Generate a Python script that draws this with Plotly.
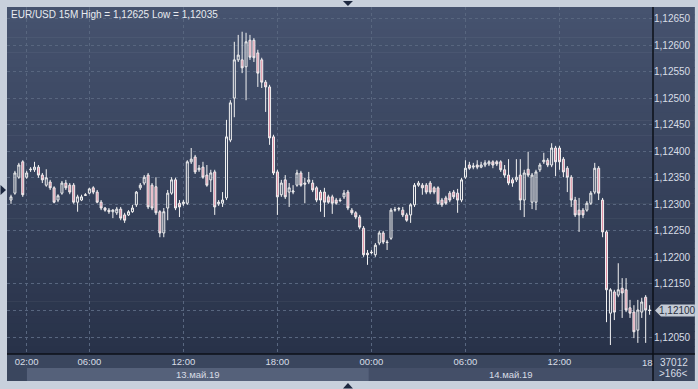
import plotly.graph_objects as go
import pandas as pd

# ---------------- data (EUR/USD 15M) ----------------
start_time = "2019-05-13 01:00"
open_ = [1.12308,1.12321,1.12351,1.12380,1.12351,1.12365,1.12365,1.12370,1.12355,1.12336,
1.12342,1.12331,1.12308,1.12321,1.12340,1.12336,1.12336,1.12304,1.12308,1.12318,
1.12321,1.12331,1.12323,1.12304,1.12293,1.12289,1.12286,1.12284,1.12291,1.12280,
1.12280,1.12286,1.12299,1.12331,1.12340,1.12355,1.12336,1.12333,1.12286,1.12246,
1.12293,1.12321,1.12346,1.12302,1.12301,1.12302,1.12380,1.12389,1.12365,1.12370,
1.12355,1.12346,1.12361,1.12301,1.12302,1.12312,1.12421,1.12500,1.12572,1.12572,
1.12559,1.12609,1.12609,1.12585,1.12572,1.12530,1.12521,1.12427,1.12361,1.12318,
1.12346,1.12323,1.12323,1.12336,1.12359,1.12340,1.12342,1.12340,1.12331,1.12323,
1.12323,1.12314,1.12314,1.12308,1.12308,1.12314,1.12323,1.12289,1.12284,1.12276,
1.12255,1.12208,1.12210,1.12205,1.12227,1.12246,1.12229,1.12236,1.12289,1.12291,
1.12289,1.12280,1.12280,1.12299,1.12336,1.12336,1.12336,1.12340,1.12331,1.12331,
1.12308,1.12312,1.12321,1.12323,1.12321,1.12308,1.12351,1.12374,1.12370,1.12374,
1.12370,1.12374,1.12376,1.12380,1.12380,1.12380,1.12365,1.12355,1.12346,1.12346,
1.12355,1.12308,1.12366,1.12304,1.12304,1.12365,1.12380,1.12383,1.12374,1.12406,
1.12406,1.12385,1.12368,1.12351,1.12308,1.12289,1.12289,1.12289,1.12302,1.12323,
1.12368,1.12308,1.12248,1.12095,1.12135,1.12129,1.12142,1.12139,1.12105,1.12097,
1.12063,1.12097,1.12125,1.12101]
high = [1.12318,1.12363,1.12378,1.12383,1.12363,1.12370,1.12380,1.12374,1.12359,1.12366,
1.12346,1.12334,1.12319,1.12344,1.12346,1.12340,1.12340,1.12318,1.12318,1.12321,
1.12331,1.12334,1.12327,1.12308,1.12295,1.12293,1.12291,1.12295,1.12295,1.12284,
1.12289,1.12299,1.12325,1.12340,1.12355,1.12359,1.12340,1.12351,1.12289,1.12293,
1.12327,1.12351,1.12350,1.12308,1.12308,1.12383,1.12406,1.12393,1.12374,1.12380,
1.12374,1.12365,1.12365,1.12308,1.12323,1.12459,1.12496,1.12606,1.12619,1.12625,
1.12623,1.12619,1.12613,1.12591,1.12576,1.12534,1.12525,1.12431,1.12365,1.12346,
1.12355,1.12340,1.12336,1.12365,1.12363,1.12350,1.12361,1.12346,1.12334,1.12327,
1.12331,1.12318,1.12318,1.12312,1.12312,1.12327,1.12327,1.12293,1.12287,1.12280,
1.12259,1.12214,1.12214,1.12227,1.12250,1.12250,1.12233,1.12293,1.12295,1.12295,
1.12295,1.12284,1.12302,1.12340,1.12344,1.12340,1.12340,1.12344,1.12334,1.12334,
1.12312,1.12316,1.12325,1.12327,1.12329,1.12350,1.12383,1.12380,1.12378,1.12383,
1.12380,1.12383,1.12383,1.12383,1.12383,1.12383,1.12374,1.12385,1.12350,1.12385,
1.12385,1.12365,1.12399,1.12359,1.12365,1.12378,1.12397,1.12387,1.12415,1.12410,
1.12410,1.12389,1.12372,1.12355,1.12314,1.12312,1.12293,1.12306,1.12325,1.12378,
1.12372,1.12312,1.12251,1.12142,1.12139,1.12189,1.12161,1.12161,1.12120,1.12110,
1.12120,1.12124,1.12129,1.12110]
low = [1.12301,1.12318,1.12348,1.12314,1.12348,1.12361,1.12361,1.12350,1.12340,1.12333,
1.12327,1.12302,1.12304,1.12318,1.12327,1.12319,1.12301,1.12286,1.12306,1.12316,
1.12319,1.12319,1.12302,1.12289,1.12286,1.12282,1.12274,1.12280,1.12270,1.12265,
1.12278,1.12284,1.12295,1.12327,1.12336,1.12291,1.12289,1.12280,1.12238,1.12238,
1.12270,1.12318,1.12289,1.12276,1.12297,1.12299,1.12376,1.12357,1.12361,1.12348,
1.12333,1.12323,1.12280,1.12297,1.12295,1.12308,1.12417,1.12464,1.12568,1.12547,
1.12496,1.12572,1.12568,1.12521,1.12519,1.12474,1.12412,1.12355,1.12280,1.12314,
1.12310,1.12295,1.12319,1.12333,1.12333,1.12302,1.12338,1.12323,1.12304,1.12286,
1.12276,1.12301,1.12282,1.12299,1.12304,1.12310,1.12289,1.12280,1.12272,1.12253,
1.12201,1.12186,1.12206,1.12201,1.12223,1.12225,1.12214,1.12233,1.12286,1.12287,
1.12276,1.12267,1.12265,1.12295,1.12333,1.12318,1.12319,1.12319,1.12319,1.12299,
1.12295,1.12299,1.12304,1.12310,1.12284,1.12304,1.12348,1.12365,1.12366,1.12366,
1.12368,1.12370,1.12372,1.12368,1.12372,1.12361,1.12350,1.12336,1.12333,1.12342,
1.12289,1.12276,1.12351,1.12291,1.12289,1.12361,1.12376,1.12370,1.12370,1.12353,
1.12365,1.12351,1.12323,1.12295,1.12276,1.12248,1.12274,1.12286,1.12299,1.12319,
1.12308,1.12238,1.12078,1.12035,1.12082,1.12125,1.12086,1.12097,1.12086,1.12048,
1.12039,1.12086,1.12039,1.12092]
close = [1.12314,1.12359,1.12374,1.12318,1.12359,1.12366,1.12370,1.12355,1.12346,1.12350,
1.12331,1.12304,1.12316,1.12340,1.12331,1.12323,1.12304,1.12314,1.12314,1.12317,
1.12329,1.12323,1.12304,1.12293,1.12289,1.12286,1.12289,1.12291,1.12274,1.12270,
1.12286,1.12293,1.12323,1.12336,1.12351,1.12295,1.12293,1.12284,1.12246,1.12286,
1.12321,1.12346,1.12293,1.12295,1.12304,1.12380,1.12385,1.12361,1.12368,1.12351,
1.12336,1.12359,1.12295,1.12304,1.12308,1.12427,1.12491,1.12572,1.12581,1.12557,
1.12606,1.12577,1.12576,1.12547,1.12530,1.12521,1.12425,1.12359,1.12314,1.12340,
1.12314,1.12331,1.12325,1.12359,1.12336,1.12338,1.12346,1.12327,1.12308,1.12308,
1.12304,1.12304,1.12302,1.12302,1.12307,1.12321,1.12293,1.12284,1.12276,1.12257,
1.12205,1.12205,1.12209,1.12223,1.12246,1.12229,1.12228,1.12289,1.12290,1.12292,
1.12280,1.12270,1.12299,1.12336,1.12340,1.12331,1.12323,1.12323,1.12323,1.12302,
1.12299,1.12302,1.12308,1.12314,1.12308,1.12346,1.12368,1.12368,1.12372,1.12370,
1.12374,1.12378,1.12380,1.12374,1.12376,1.12365,1.12355,1.12340,1.12340,1.12351,
1.12308,1.12359,1.12355,1.12355,1.12361,1.12374,1.12383,1.12374,1.12406,1.12380,
1.12380,1.12361,1.12351,1.12308,1.12280,1.12280,1.12280,1.12302,1.12321,1.12368,
1.12321,1.12248,1.12139,1.12139,1.12097,1.12139,1.12133,1.12101,1.12095,1.12060,
1.12101,1.12116,1.12101,1.12100]

y_tick_vals = [1.1205, 1.1210, 1.1215, 1.1220, 1.1225, 1.1230, 1.1235, 1.1240,
               1.1245, 1.1250, 1.1255, 1.1260, 1.1265]
# the 1,12100 level is shown by the last-price tag instead of a plain tick label
y_tick_text = ["1,12050", "", "1,12150", "1,12200", "1,12250", "1,12300", "1,12350",
               "1,12400", "1,12450", "1,12500", "1,12550", "1,12600", "1,12650"]
x_tick_vals = ["2019-05-13 02:00", "2019-05-13 06:00", "2019-05-13 12:00", "2019-05-13 18:00",
               "2019-05-14 00:00", "2019-05-14 06:00", "2019-05-14 12:00"]
x_tick_text = ["02:00", "06:00", "12:00", "18:00", "00:00", "06:00", "12:00"]
title_text = "EUR/USD 15M High = 1,12625 Low = 1,12035"
last_price_text = "1,12100"
date_labels = ["13.май.19", "14.май.19"]

times = pd.date_range(start_time, periods=len(open_), freq="15min")

# ---------------- geometry (pixels) ----------------
W, H = 698, 389
L, R, T, B = 7, 655, 7, 354
bar = pd.Timedelta(minutes=15)
x_range = [times[0] - 1.02 * bar, times[0] + 163.87 * bar]
y_top = 1.12100 + (310.5 - T) * 0.0000188323
y_bot = 1.12100 + (310.5 - B) * 0.0000188323


def hx(x):
    return (x - L) / (R - L)


def vy(y):
    return (B - y) / (B - T)


TXT = "#d8dde6"
FONT = "Liberation Sans, Arial, sans-serif"
GRID = "#58667f"

fig = go.Figure()
fig.add_trace(go.Candlestick(
    x=times, open=open_, high=high, low=low, close=close,
    increasing=dict(line=dict(color="#f2f2f2", width=1), fillcolor="rgba(0,0,0,0)"),
    decreasing=dict(line=dict(color="#f2f2f2", width=1), fillcolor="#e08aa0"),
    whiskerwidth=0, hoverinfo="skip", showlegend=False,
))

shapes = []
# vertical gradient background for plot and right panel
N = 46
c_top = (70, 83, 111)
c_bot = (40, 50, 73)
for k in range(N):
    y0 = T + (B - T) * k / N
    y1 = T + (B - T) * (k + 1) / N + 0.6
    f = (k + 0.5) / N
    c = tuple(int(round(c_top[j] + (c_bot[j] - c_top[j]) * f)) for j in range(3))
    shapes.append(dict(type="rect", xref="paper", yref="paper", layer="below",
                       x0=hx(L), x1=hx(697), y0=vy(y1), y1=vy(y0),
                       fillcolor="rgb(%d,%d,%d)" % c, line=dict(width=0)))
# bottom panel
shapes.append(dict(type="rect", xref="paper", yref="paper", layer="below",
                   x0=hx(L), x1=hx(697), y0=vy(381), y1=vy(B),
                   fillcolor="#3a465e", line=dict(width=0)))
shapes.append(dict(type="rect", xref="paper", yref="paper", layer="below",
                   x0=hx(27), x1=hx(370), y0=vy(381), y1=vy(368),
                   fillcolor="#55617a", line=dict(width=0)))
shapes.append(dict(type="rect", xref="paper", yref="paper", layer="below",
                   x0=hx(370), x1=hx(R), y0=vy(381), y1=vy(368),
                   fillcolor="#444f68", line=dict(width=0)))
# separators
shapes.append(dict(type="line", xref="paper", yref="paper", layer="above",
                   x0=hx(R), x1=hx(R), y0=vy(381), y1=vy(T),
                   line=dict(color="#0c1018", width=1.5)))
shapes.append(dict(type="line", xref="paper", yref="paper", layer="above",
                   x0=hx(L), x1=hx(697), y0=vy(B), y1=vy(B),
                   line=dict(color="#0c1018", width=1.5)))
# current price tag
tag = "M %f,%f L %f,%f L %f,%f L %f,%f L %f,%f Z" % (
    hx(657), vy(310.5), hx(663), vy(304.5), hx(697), vy(304.5),
    hx(697), vy(316.5), hx(663), vy(316.5))
shapes.append(dict(type="path", xref="paper", yref="paper", layer="above", path=tag,
                   fillcolor="#c4cbd6", line=dict(width=0)))
# navigation triangles
tri_col = "#1d2840"
for pts in [((344, 1), (354, 1), (349, 6)), ((344, 388.5), (354, 388.5), (349, 383)),
            ((0.5, 185), (0.5, 195), (6, 190))]:
    p = "M " + " L ".join("%f,%f" % (hx(a), vy(b)) for a, b in pts) + " Z"
    shapes.append(dict(type="path", xref="paper", yref="paper", layer="above", path=p,
                       fillcolor=tri_col, line=dict(width=0)))

annotations = [
    dict(text=title_text, xref="paper", yref="paper", x=hx(9), y=vy(14),
         xanchor="left", yanchor="middle", showarrow=False,
         font=dict(size=10, color="#e8ebf0", family=FONT)),
    dict(text=last_price_text, xref="paper", yref="paper", x=hx(680), y=vy(310.5),
         xanchor="center", yanchor="middle", showarrow=False,
         font=dict(size=10, color="#2a3142", family=FONT)),
    dict(text="37012", xref="paper", yref="paper", x=hx(676), y=vy(362),
         xanchor="center", yanchor="middle", showarrow=False,
         font=dict(size=10, color=TXT, family=FONT)),
    dict(text=">166<", xref="paper", yref="paper", x=hx(676), y=vy(374),
         xanchor="center", yanchor="middle", showarrow=False,
         font=dict(size=10, color=TXT, family=FONT)),
    dict(text="18", xref="paper", yref="paper", x=hx(642), y=vy(362),
         xanchor="left", yanchor="middle", showarrow=False,
         font=dict(size=9.5, color=TXT, family=FONT)),
    dict(text=date_labels[0], xref="paper", yref="paper", x=hx(199), y=vy(374.5),
         xanchor="center", yanchor="middle", showarrow=False,
         font=dict(size=9.5, color=TXT, family=FONT)),
    dict(text=date_labels[1], xref="paper", yref="paper", x=hx(513), y=vy(374.5),
         xanchor="center", yanchor="middle", showarrow=False,
         font=dict(size=9.5, color=TXT, family=FONT)),
]

fig.update_layout(
    width=W, height=H,
    margin=dict(l=L, r=W - R, t=T, b=H - B, pad=0),
    paper_bgcolor="#c8d0dc", plot_bgcolor="rgba(0,0,0,0)",
    showlegend=False, boxgap=0.28,
    shapes=shapes, annotations=annotations,
    font=dict(family=FONT, color=TXT),
    xaxis=dict(type="date", range=x_range, rangeslider=dict(visible=False),
               tickvals=x_tick_vals, ticktext=x_tick_text, ticks="",
               tickfont=dict(size=9.5, color=TXT, family=FONT),
               showgrid=True, gridcolor=GRID, griddash="dot", gridwidth=1,
               showline=False, zeroline=False, fixedrange=True),
    yaxis=dict(side="right", range=[y_bot, y_top], tickvals=y_tick_vals,
               ticktext=y_tick_text, ticks="",
               tickfont=dict(size=10, color=TXT, family=FONT),
               showgrid=True, gridcolor=GRID, griddash="dot", gridwidth=1,
               showline=False, zeroline=False, fixedrange=True),
)

fig.write_html("out.html")
